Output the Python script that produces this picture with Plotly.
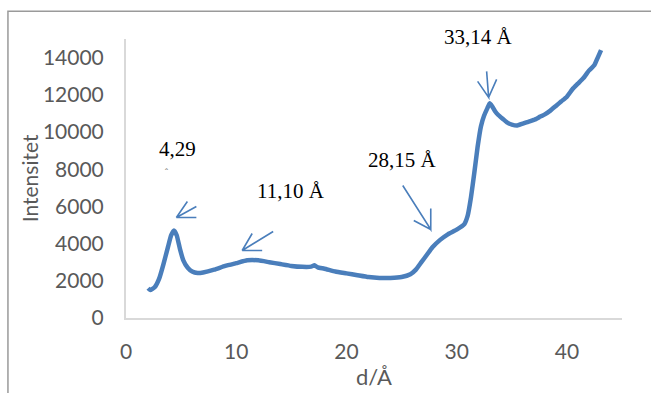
import plotly.graph_objects as go

d_values = [2.0, 2.2, 2.6, 3.0, 3.4, 3.8, 4.1, 4.35, 4.6, 4.9, 5.2, 5.6, 6.0, 6.5, 7.0,
            8.0, 9.0, 10.0, 11.0, 12.0, 13.0, 14.0, 15.0, 16.0, 16.8, 17.1, 17.4, 18.0,
            19.0, 20.0, 21.0, 22.0, 23.0, 24.0, 25.0, 25.8, 26.3, 26.8, 27.3, 27.8, 28.5,
            29.2, 30.0, 30.7, 31.0, 31.3, 31.6, 31.9, 32.2, 32.5, 32.8, 33.0, 33.2, 33.5,
            33.8, 34.2, 34.6, 35.0, 35.5, 36.0, 36.5, 37.0, 37.5, 38.0, 38.5, 39.0, 39.5,
            40.0, 40.5, 41.0, 41.5, 42.0, 42.5, 42.8, 43.1]
intensity = [1600, 1500, 1650, 2100, 2900, 3800, 4450, 4700, 4450, 3700, 3100, 2700, 2500,
             2420, 2450, 2600, 2800, 2950, 3100, 3100, 3000, 2900, 2800, 2750, 2760, 2830,
             2720, 2650, 2500, 2400, 2300, 2200, 2150, 2150, 2200, 2350, 2600, 3000, 3400,
             3800, 4200, 4500, 4750, 5050, 5500, 6500, 7800, 9200, 10300, 10900, 11300,
             11550, 11400, 11100, 10900, 10700, 10500, 10400, 10350, 10450, 10550, 10650,
             10800, 10950, 11150, 11400, 11650, 11900, 12300, 12600, 12900, 13300, 13600,
             14000, 14400]

x_ticks = [0, 10, 20, 30, 40]
y_ticks = [0, 2000, 4000, 6000, 8000, 10000, 12000, 14000]
y_tick_text = ["0", "2000", "4000", "6000", "8000", "10000", "12000", "14000"]

# peak labels: (text, x, y-paper)
peak_labels = [("4,29", 4.7, 0.605), ("11,10 Å", 15.0, 0.456), ("28,15 Å", 25.1, 0.566),
               ("33,14 Å", 32.0, 1.007)]
# arrows: tip (x, y) in data, then pixel offsets of shaft tail and the two head arms
arrows = [
    (4.57, 5400, (20, 11), (11, 16), (20, 0)),
    (10.54, 3630, (31, 19), (10, 17), (20, 0)),
    (27.65, 4760, (-28, 44), (0, 21), (-17, 9)),
    (32.9, 11860, (-2, 26), (-11, 16), (8, 18)),
]

blue = "#4a7ebb"
grey = "#595959"

fig = go.Figure()
fig.add_trace(go.Scatter(x=d_values, y=intensity, mode="lines",
                         line=dict(color=blue, width=4.5, shape="spline", smoothing=0.4),
                         showlegend=False, hoverinfo="skip"))

for text, x, y in peak_labels:
    fig.add_annotation(x=x, y=y, text=text, showarrow=False, xref="x", yref="paper",
                       xanchor="center", yanchor="middle",
                       font=dict(family="Liberation Serif", size=21, color="#000000"))
fig.add_annotation(x=3.7, y=7850, text="ˆ", showarrow=False, yanchor="middle",
                   font=dict(family="Liberation Serif", size=9, color="#555555"))

# y-axis title as rotated text
fig.add_annotation(x=-0.194, y=0.5, xref="paper", yref="paper", text="Intensitet",
                   textangle=-90, showarrow=False, xanchor="center", yanchor="middle",
                   font=dict(family="Lato", size=21, color=grey))

for x, y, tail, arm1, arm2 in arrows:
    path = (f"M {tail[0]},{tail[1]} L 0,0 L {arm1[0]},{arm1[1]} "
            f"M 0,0 L {arm2[0]},{arm2[1]}")
    fig.add_shape(type="path", xref="x", yref="y", xsizemode="pixel", ysizemode="pixel",
                  xanchor=x, yanchor=y, path=path,
                  line=dict(color=blue, width=1.6))

fig.add_shape(type="rect", xref="paper", yref="paper", x0=-0.238, x1=1.3, y0=-0.6, y1=1.0996,
              line=dict(color="#9a9a9a", width=1.5), fillcolor="rgba(0,0,0,0)", layer="below")

fig.update_layout(
    width=651, height=393,
    margin=dict(l=126, r=29, t=39, b=73),
    paper_bgcolor="white", plot_bgcolor="white",
    font=dict(family="Lato", color=grey, size=21),
    xaxis=dict(range=[0, 45], tickvals=x_ticks, showgrid=False, zeroline=False,
               showline=True, linecolor="#d9d9d9", linewidth=2, ticks="",
               ticklabelstandoff=14, tickfont=dict(size=21, color=grey),
               title=dict(text="d/Å", standoff=2, font=dict(size=22, color=grey))),
    yaxis=dict(range=[0, 15000], tickvals=y_ticks, ticktext=y_tick_text, showgrid=False,
               zeroline=False, showline=True, linecolor="#d9d9d9", linewidth=2, ticks="",
               ticklabelstandoff=16, tickfont=dict(size=21, color=grey)),
)

fig.write_html("out.html")
